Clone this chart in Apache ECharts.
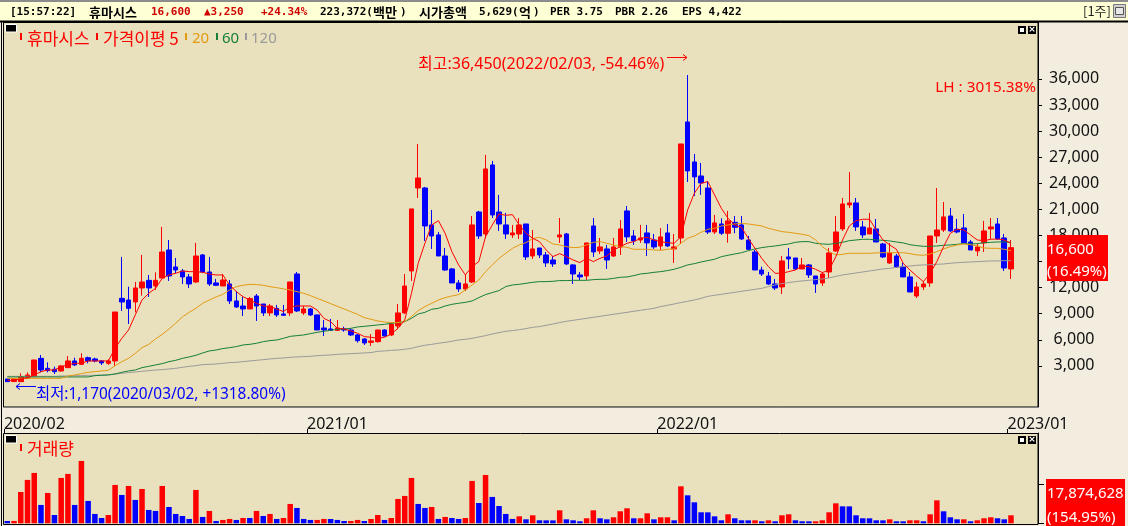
<!DOCTYPE html>
<html>
<head>
<meta charset="utf-8">
<title>휴마시스</title>
<script src="https://cdn.jsdelivr.net/npm/echarts@6/dist/echarts.min.js"></script>
<style>
html, body { margin: 0; padding: 0; background: #F3EDDF; }
#chart { width: 1128px; height: 526px; }
</style>
</head>
<body>
<div id="chart"></div>
<script>
// weekly candles
const openVals = [1500,1200,1190,1570,1770,3870,2720,2610,2420,2800,
  3570,3180,3950,3800,3570,3300,3570,10770,10580,10350,
  11960,12840,12190,13110,16330,14380,13920,13230,12650,15760,
  13800,12540,12190,12420,10470,9890,9550,11040,10120,9090,
  9620,8970,9090,13570,9090,9550,8860,7360,7250,7090,
  7250,7130,6560,6100,5710,5790,7130,6560,7590,9090,
  13920,23460,23460,19210,18060,15640,14150,12540,11850,12650,
  20700,18170,26110,20700,19210,18060,18170,19320,15640,16560,
  15760,15180,17830,18170,14610,13460,13340,19090,16220,16450,
  15640,16680,20820,17940,17480,18290,17480,16790,18290,16450,
  17710,31050,26450,24840,23460,18400,19320,18250,19510,19210,
  17480,16100,14030,13340,12420,12080,15530,15410,14150,14610,
  13340,12540,13800,16220,18750,21510,21740,18980,18170,18750,
  17020,14840,15640,14410,13230,11040,12080,12540,17940,18630,
  20240,18710,18860,17250,16220,17140,18750,19320,17710,14150];
const closeVals = [1190,1500,1770,1960,3680,2530,2460,2340,2990,3570,
  3110,3870,3570,3570,3340,3570,9200,10350,9620,11960,
  12650,11960,12840,16100,13340,14030,13230,12420,15640,13800,
  12420,12270,12880,10470,9780,9550,10740,9890,9090,9890,
  8860,8820,12650,9320,9550,8860,7130,7130,7090,7360,
  7130,6560,5900,5640,5870,7130,6440,7820,9090,12190,
  21050,24610,19090,17940,15640,14030,12540,11850,12420,19210,
  17940,25650,20360,19320,18170,18290,19210,15530,16450,15760,
  14840,14720,18060,14720,13570,13230,17140,16100,16680,15180,
  16680,18750,17830,17370,17710,17140,16680,17830,16790,16680,
  28520,25420,24730,24040,18400,19440,18250,19670,18940,17600,
  16410,14030,13570,12420,11960,15070,15300,14150,14610,13460,
  12420,13570,15990,18400,21620,21740,18980,18060,18860,17250,
  15530,15990,14380,13230,11500,12080,12420,17940,18630,20130,
  18520,18400,17140,16330,16680,18520,18980,17600,14260,16600];
const lowVals = [1170,1170,1190,1500,1770,2260,2260,2070,2340,2800,
  2990,3110,3300,3410,3110,3110,2990,9320,7820,9160,
  11080,10930,11730,13110,12770,13650,12420,11960,12540,13690,
  12190,12190,12190,10120,9660,8740,9550,8170,8740,8740,
  8630,8740,8740,9200,8860,8740,7130,6440,7020,7020,
  6940,6440,5680,5410,5290,5680,6370,6440,7210,8970,
  12770,22310,17370,16450,15640,13920,12540,11500,11620,12540,
  17600,17710,20010,18520,17600,17710,17600,15180,15300,15410,
  14380,14380,17140,14610,12420,12880,12880,15530,15870,14150,
  15530,15760,17250,16910,17140,15640,16450,16330,16680,14840,
  17020,24150,22540,22660,18170,18170,18060,17170,18250,17480,
  16330,14030,13340,12310,11730,11270,14150,14030,14150,13110,
  11390,12190,13110,16100,18520,21160,18520,17710,18170,17250,
  15410,14720,14260,13230,11500,10810,11730,12080,17140,18400,
  18400,18250,17140,16330,15640,16100,17600,17480,13920,13000];
const highVals = [1500,1500,2150,2260,3700,4260,3410,2920,3110,4140,
  3950,4450,4070,3950,3680,3760,9200,15530,12110,12650,
  15760,13460,13760,18980,17480,15410,14150,13570,17140,15870,
  15530,13000,13570,12880,11620,10930,10930,11270,10120,10120,
  10010,10010,12650,13800,9890,9660,8860,8280,8400,8280,
  7520,7320,6670,6170,6670,7130,7210,7980,10120,13570,
  21050,28520,23580,20930,18400,16560,14260,12880,13460,20240,
  20820,27260,26570,22660,20590,19210,20010,19320,18630,16560,
  16100,15640,20010,18290,14720,13800,17140,20010,17710,16910,
  17710,19780,21390,18630,19210,19210,18170,18860,19320,18170,
  28520,36450,27370,26340,24270,20360,19970,20820,20240,20240,
  17940,16330,14410,13800,13000,15640,16560,15410,15410,14720,
  13340,13800,16560,20240,22310,25300,22310,19670,20590,19900,
  17140,17140,15870,14840,13800,12650,12770,17940,23460,21850,
  21160,19900,20470,17480,17020,19670,20010,20010,18170,17480];

// moving averages
const ma5 = [1340,1340,1500,1650,1960,2340,2530,2530,2920,3110,
  3300,3300,3570,3570,3570,3570,5020,6170,7130,8860,
  10580,11350,11920,13070,13460,13650,13920,13840,13840,13760,
  13570,13460,13460,12310,11540,10960,10580,10200,9890,9820,
  9550,9240,9820,9890,9890,9890,9430,8470,8090,7320,
  7250,7020,6750,6370,6290,6170,6290,6670,7320,8280,
  11350,14800,17100,19210,19700,18250,16140,14610,13460,14420,
  14990,17860,19210,20470,20320,20390,19210,18250,17670,17290,
  16330,15570,15910,15570,15180,14880,15370,14990,15370,15640,
  16330,16710,17100,17290,17670,17790,17480,17290,17170,17100,
  17860,20930,22850,24000,24190,22660,21120,19970,19210,18940,
  17670,16520,15370,14410,13650,13650,13840,14030,14490,14410,
  14110,13730,14030,15560,17480,19090,19700,19860,19860,18630,
  17480,16910,16410,14800,14030,13340,12690,13650,14990,16710,
  18250,18710,18630,18060,17480,17400,17560,17600,17480,17100];
const ma20 = [1570,1570,1570,1570,1570,1570,1570,1570,1570,1840,
  1960,2110,2260,2340,2420,2490,3030,3490,3870,4450,
  5100,5480,6100,6630,7250,7900,8630,9160,9620,10200,
  10580,10930,11230,11730,12110,12270,12380,12350,12270,12110,
  12000,11850,11730,11540,11350,11080,10770,10470,10160,9850,
  9550,9240,8930,8550,8360,8170,8050,7980,7980,8090,
  8670,9360,9820,10200,10580,10850,11040,11200,11730,12310,
  12880,13840,14610,15370,15950,16520,16910,17180,17630,17790,
  17480,17020,16910,16710,16600,16640,16910,17210,17290,17100,
  16910,16710,16640,16410,16410,16410,16330,16290,16410,16450,
  17100,17670,17940,18360,18710,18820,19090,19210,19320,19400,
  19320,19210,19090,18820,18630,18440,18360,18250,18130,17980,
  17480,16710,16140,15760,15830,15950,15950,15950,15950,15990,
  16020,16020,16020,16020,15910,15760,15720,15870,16140,16450,
  16710,16910,17020,16940,16790,16560,16520,16520,16410,16250];
const ma60 = [1730,1730,1730,1730,1730,1730,1730,1730,1730,1730,
  1730,1730,1730,1880,1920,1960,2070,2260,2420,2530,
  2800,2950,3110,3260,3490,3640,3870,4030,4220,4490,
  4720,4830,4990,5100,5220,5410,5480,5600,5790,5910,
  5980,6170,6400,6480,6560,6710,6860,6980,7090,7210,
  7250,7320,7480,7550,7630,7710,7780,7900,7980,8090,
  8470,8970,9160,9510,9620,9890,10080,10200,10310,10470,
  10850,11200,11430,11660,12120,12310,12380,12500,12610,12690,
  12690,12730,12810,12810,12840,12840,12840,12920,12960,12960,
  13070,13190,13230,13380,13570,13650,13760,13840,13960,14110,
  14340,14610,14760,14950,15110,15260,15560,15720,15870,16020,
  16250,16450,16600,16710,16790,16910,17020,17210,17290,17290,
  17100,17020,16980,17100,17210,17400,17480,17560,17560,17480,
  17440,17370,17250,17140,16940,16830,16750,16750,16790,16870,
  16910,16980,17060,17020,17060,17170,17210,17250,17250,17210];
const ma120 = [1800,1800,1800,1800,1800,1800,1800,1800,1840,1840,
  1880,1880,1920,1920,1960,1960,2070,2150,2230,2300,
  2380,2460,2530,2570,2650,2720,2840,2950,3030,3150,
  3180,3220,3300,3380,3410,3490,3570,3640,3720,3800,
  3870,3910,3990,4030,4070,4100,4180,4220,4260,4330,
  4370,4410,4450,4490,4530,4680,4720,4790,4830,4910,
  5020,5220,5370,5480,5600,5710,5830,5980,6060,6170,
  6330,6480,6670,6830,6980,7060,7170,7290,7440,7520,
  7670,7820,7980,8130,8240,8360,8470,8590,8700,8820,
  8930,9050,9160,9280,9390,9510,9620,9820,9970,10120,
  10280,10430,10580,10770,11000,11120,11230,11350,11460,11580,
  11690,11810,11920,12120,12310,12460,12580,12690,12770,12840,
  12920,13000,13110,13300,13460,13570,13690,13800,13920,14030,
  14150,14220,14340,14420,14490,14570,14610,14640,14680,14720,
  14800,14870,14910,14950,14990,15030,15070,15070,15100,15100];

// volume in millions of shares
const volumes = [5.2,5.3,70,96.9,112.5,41,67.8,18.6,101.3,110.3,
  41,139.3,49.9,20.9,11.9,18.6,85.7,63.3,83.4,52.2,
  76.7,29.8,27.6,83.4,36.5,20.9,16.4,9.7,74.5,14.2,
  27.6,5.2,7.5,9.7,7.5,11.9,11.8,27.6,16.4,20.9,
  9.7,11.9,43.2,34.3,9.7,7.5,7.5,9.7,9.6,7.5,
  5.2,5.2,7.5,5.2,9.7,18.6,7.5,11.9,54.4,61.1,
  101.3,43.2,34.3,36.5,9.7,14.2,11.9,9.7,11.9,94.6,
  45.4,108,58.9,38.7,20.9,9.7,15.6,8.9,17.9,6.7,
  6.6,6.5,29,8.9,6.7,4.5,11.2,29,11.2,8.9,
  13.4,26.8,33.5,11.2,11.2,22.3,8.9,13.4,13.4,6.7,
  82.6,62.5,46.9,24.6,24.5,15.6,6.7,20.1,11.2,6.7,
  6.6,6.7,4.5,6.7,4.5,17.9,20.1,6.7,4.5,4.4,
  4.5,6.7,24.6,44.6,37.9,37.8,17.9,11.2,11.1,6.7,
  6.6,8.9,4.5,4.4,6.7,6.7,4.5,20.1,51.3,26.8,
  13.4,8.9,8.9,4.5,6.7,11.2,13.4,11.2,8.9,17.87];

const priceTicks = [3000,6000,9000,12000,15000,18000,21000,24000,27000,30000,33000,36000];
const volumeTicks = [0, 87];
const dateTickIdx = [0, 45, 97, 149];

const RED = '#FF0000';
const BLUE = '#0000FF';
const ORANGE = '#E39A12';
const GREEN = '#157F3A';
const GRAY = '#9A9A9A';
const PANEL = '#E9E1BD';
const BAR_STEP = 6.736;
const SLOTS = 153; // 150 weeks and the empty room before the scale
const PLOT_LEFT = 3.93;
const PLOT_W = BAR_STEP * SLOTS;

// week labels from the first candle on
const weeks = [];
const d = new Date(Date.UTC(2020, 1, 24));
for (let i = 0; i < SLOTS; i++) {
  const mm = String(d.getUTCMonth() + 1).padStart(2, '0');
  const dd = String(d.getUTCDate()).padStart(2, '0');
  weeks.push(d.getUTCFullYear() + '/' + mm + '/' + dd);
  d.setUTCDate(d.getUTCDate() + 7);
}

const candles = openVals.map((o, i) => [o, closeVals[i], lowVals[i], highVals[i]]);

const KR = '"Noto Sans CJK KR", "Noto Sans", sans-serif';
const UI = '"Noto Sans", "Noto Sans CJK KR", sans-serif';
const MONO = 'bold 11px "DejaVu Sans Mono", monospace';
const HANGUL = 'bold 13px "Noto Sans CJK KR", sans-serif';

function txt(x, y, text, fill, font, align) {
  return { type: 'text', x: x, y: y, z: 100, silent: true,
    style: { text: text, fill: fill, font: font, align: align || 'left', verticalAlign: 'middle' } };
}
function box(x, y, w, h, fill, stroke, z) {
  return { type: 'rect', z: z === undefined ? 100 : z, silent: true,
    shape: { x: x, y: y, width: w, height: h },
    style: { fill: fill, stroke: stroke || null, lineWidth: 1 } };
}
function line(pts, color) {
  return { type: 'polyline', z: 100, silent: true, shape: { points: pts },
    style: { stroke: color, fill: null, lineWidth: 1 } };
}
function winButtons(x, y) {
  return [
    box(x, y, 8, 8, '#000'), box(x + 2, y + 2, 4, 4, '#fff'),
    box(x + 10, y, 8, 8, '#000'),
    txt(x + 14, y + 4, '×', '#fff', 'bold 9px "DejaVu Sans"', 'center')
  ];
}

const graphics = [
  // frame
  box(0, 0, 1128, 2, '#8C8C8C', null, -2),
  box(0, 2, 1128, 19, '#FFFFD6', null, -2),
  box(0, 20.5, 1128, 2, '#000', null, -2),
  box(1, 21, 1, 505, '#000', null, -2),
  box(3.5, 22.5, 1034.5, 384.5, PANEL, '#000', -1),
  box(3.5, 433.5, 1034.5, 91, PANEL, '#000', -1),
  line([[3.5, 407.5], [1038, 407.5]], '#808080'),

  // header line
  txt(10, 12, '[15:57:22]', '#000', MONO),
  txt(89, 12, '휴마시스', '#000', HANGUL),
  txt(151, 12, '16,600', '#D00000', MONO),
  txt(204, 12, '▲3,250', '#D00000', MONO),
  txt(261, 12, '+24.34%', '#D00000', MONO),
  txt(320, 12, '223,372(', '#000', MONO),
  txt(373, 12, '백만', '#000', HANGUL),
  txt(400, 12, ')', '#000', MONO),
  txt(419, 12, '시가총액', '#000', HANGUL),
  txt(479, 12, '5,629(', '#000', MONO),
  txt(519, 12, '억', '#000', HANGUL),
  txt(533, 12, ')', '#000', MONO),
  txt(550, 12, 'PER 3.75', '#000', MONO),
  txt(615, 12, 'PBR 2.26', '#000', MONO),
  txt(682, 12, 'EPS 4,422', '#000', MONO),
  txt(1083, 11, '[1주]', '#222', '13px ' + KR),
  box(1113.5, 4.5, 12, 13, '#D0D0D0', '#777'),
  box(1115.5, 7.5, 8, 7, '#E8E8E8', '#555'),

  // price panel legend
  box(5.5, 24.5, 11, 7.5, '#000', '#fff'),
  box(20, 33, 2, 7, RED),
  txt(27, 39, '휴마시스', RED, '17px ' + KR),
  box(96, 33, 2, 7, RED),
  txt(103, 39, '가격이평 5', RED, '17px ' + KR),
  box(185, 33, 2, 7, ORANGE),
  txt(192, 39, '20', ORANGE, '15px ' + UI),
  box(216, 33, 2, 7, GREEN),
  txt(222, 39, '60', GREEN, '15px ' + UI),
  box(245, 33, 2, 7, GRAY),
  txt(251, 39, '120', GRAY, '15px ' + UI),
  ...winButtons(1018, 26),

  // high / low notes
  txt(418, 64, '최고:36,450(2022/02/03, -54.46%)', RED, '16px ' + UI),
  line([[667, 57.5], [687, 57.5]], RED),
  line([[683, 54.5], [687, 57.5], [683, 60.5]], RED),
  txt(36, 394.5, '최저:1,170(2020/03/02, +1318.80%)', BLUE, '15.4px ' + UI),
  line([[16, 386.5], [36, 386.5]], BLUE),
  line([[20, 383.5], [16, 386.5], [20, 389.5]], BLUE),
  txt(1036, 88, 'LH : 3015.38%', RED, '15.3px ' + UI, 'right'),

  // current price box
  box(1047, 235, 61, 46, RED),
  txt(1047, 250, '16,600', '#fff', '15px ' + UI),
  txt(1047, 272, '(16.49%)', '#fff', '15px ' + UI),

  // volume panel
  box(5.5, 435.5, 11, 7.5, '#000', '#fff'),
  box(20, 444, 2, 7, RED),
  txt(27, 449, '거래량', RED, '17px ' + KR),
  ...winButtons(1018, 436),
  box(1046, 479, 79, 47, RED),
  txt(1047, 494, '17,874,628', '#fff', '15px ' + UI),
  txt(1047, 518, '(154.95%)', '#fff', '15px ' + UI)
];

function maSeries(name, data, color) {
  return { name: name, type: 'line', data: data, xAxisIndex: 0, yAxisIndex: 0,
    symbol: 'none', silent: true, z: 5,
    lineStyle: { color: color, width: 1 } };
}

const chart = echarts.init(document.getElementById('chart'), null, { renderer: 'canvas' });
chart.setOption({
  animation: false,
  backgroundColor: '#F3EDDF',
  graphic: { elements: graphics },
  grid: [
    { left: PLOT_LEFT, top: 22, width: PLOT_W, height: 385 },
    { left: PLOT_LEFT, top: 433, width: PLOT_W, height: 90.3 },
    // date scale: half a slot to the left so the tick sits on the bar's left edge
    { left: PLOT_LEFT - BAR_STEP / 2, top: 433, width: PLOT_W, height: 1 }
  ],
  xAxis: [
    { type: 'category', gridIndex: 0, data: weeks, show: false },
    { type: 'category', gridIndex: 1, data: weeks, show: false },
    { type: 'category', gridIndex: 2, data: weeks, position: 'top',
      axisLine: { show: false },
      axisTick: { show: true, alignWithLabel: true, length: 5, interval: (i) => dateTickIdx.includes(i),
        lineStyle: { color: '#000', width: 1 } },
      axisLabel: { show: true, interval: (i) => dateTickIdx.includes(i), align: 'left', margin: 1,
        color: '#111', fontFamily: UI, fontSize: 16,
        formatter: (v) => v.slice(0, 7) } }
  ],
  yAxis: [
    { type: 'value', gridIndex: 0, position: 'right', offset: BAR_STEP * 0.52, min: -1725, max: 42544,
      splitLine: { show: false },
      axisLine: { show: true, onZero: false, lineStyle: { color: '#000' } },
      axisTick: { show: true, length: 4, customValues: priceTicks, lineStyle: { color: '#000' } },
      axisLabel: { show: true, customValues: priceTicks, align: 'center', margin: 36, padding: [7, 0, 0, 0],
        color: '#111', fontFamily: UI, fontSize: 16,
        formatter: (v) => v.toLocaleString('en-US') } },
    { type: 'value', gridIndex: 1, position: 'right', offset: BAR_STEP * 0.52, min: 0, max: 201.7,
      splitLine: { show: false },
      axisLine: { show: true, lineStyle: { color: '#000' } },
      axisTick: { show: true, length: 6, customValues: volumeTicks, lineStyle: { color: '#000' } },
      axisLabel: { show: false } },
    { type: 'value', gridIndex: 2, show: false }
  ],
  series: [
    { name: '휴마시스', type: 'candlestick', data: candles, xAxisIndex: 0, yAxisIndex: 0,
      barWidth: 5, silent: true, z: 3,
      itemStyle: { color: RED, color0: BLUE, borderColor: RED, borderColor0: BLUE, borderWidth: 1 } },
    maSeries('120', ma120, GRAY),
    maSeries('60', ma60, GREEN),
    maSeries('20', ma20, ORANGE),
    maSeries('5', ma5, RED),
    { name: '거래량', type: 'bar', data: volumes, xAxisIndex: 1, yAxisIndex: 1,
      barWidth: 5.5, silent: true,
      itemStyle: { color: (p) => (p.dataIndex === 0 || volumes[p.dataIndex] < volumes[p.dataIndex - 1]) ? BLUE : RED } }
  ]
});
</script>
</body>
</html>
